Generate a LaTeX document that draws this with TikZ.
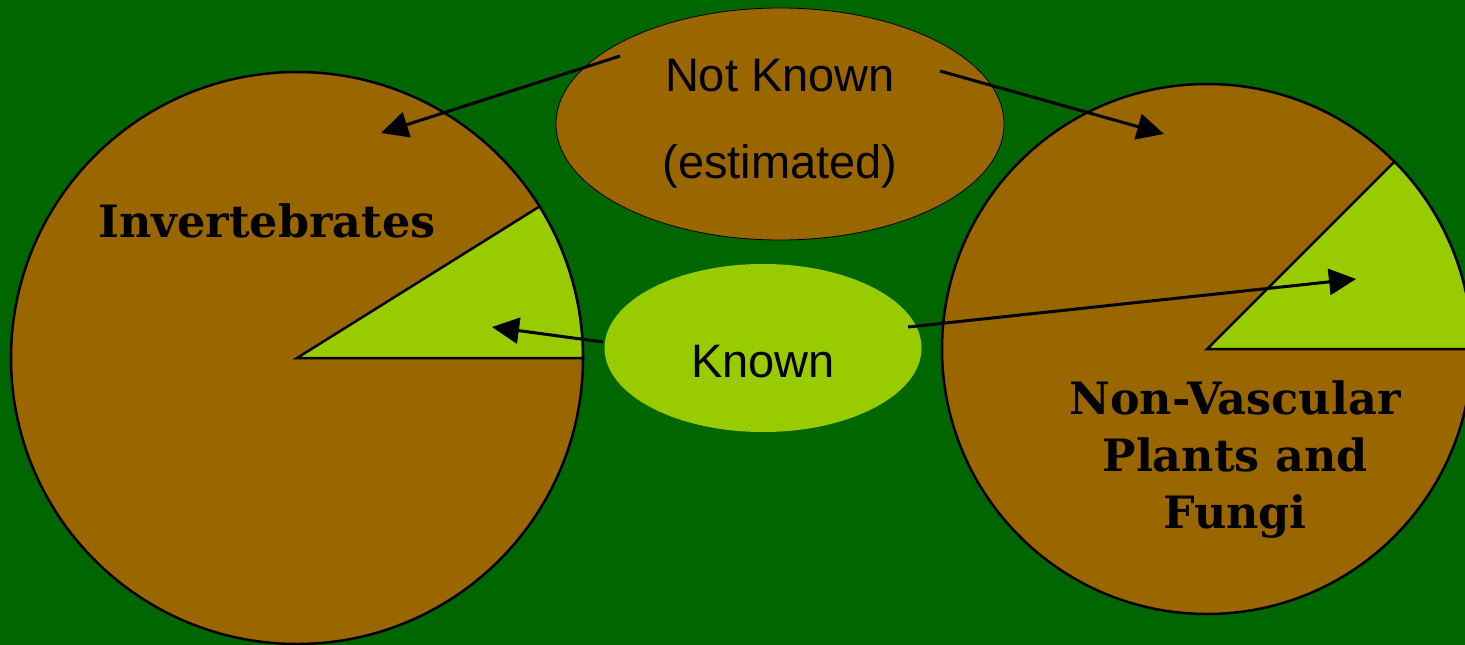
\documentclass[tikz,border=0pt]{standalone}
\usepackage{fontspec}
\setmainfont{Liberation Sans}
\newfontfamily\piefont{DejaVu Serif}
\usetikzlibrary{shapes.geometric,arrows.meta}
\definecolor{bggreen}{RGB}{0,102,0}
\definecolor{piebrown}{RGB}{153,102,0}
\definecolor{pielime}{RGB}{153,204,0}

\begin{document}
\begin{tikzpicture}[x=1bp, y=-1bp,
  pie/.style={draw=black, line width=2.5bp, fill=piebrown},
  slice/.style={draw=black, line width=2.5bp, fill=pielime, line join=miter},
  bubble/.style={ellipse, inner sep=0pt, font=\fontsize{47bp}{87bp}\selectfont, align=center},
  group/.style={font=\piefont\bfseries\fontsize{44.5bp}{57bp}\selectfont, align=center},
  pointer/.style={-{Triangle[length=27bp, width=26bp]}, line width=3bp}
]
\useasboundingbox (0,0) rectangle (1465,645);
\fill[bggreen] (0,0) rectangle (1465,645);

% Pie charts
\begin{scope}
  \clip (0,0) rectangle (1465,645);
  \draw[pie] (297,358) circle[radius=286];
  \draw[slice] (297,358) -- ++(286,0) arc[start angle=0, end angle=-32, radius=286] -- cycle;
  \draw[pie] (1207,349) circle[radius=265];
  \draw[slice] (1207,349) -- ++(265,0) arc[start angle=0, end angle=-45, radius=265] -- cycle;
\end{scope}

% Group labels
\node[group, anchor=base] (invlabel) at (267,237) {Invertebrates};
\node[group] (nvplabel) at (1235,460) {Non-Vascular\\Plants and\\Fungi};

% Legend bubbles
\node[bubble, draw=black, line width=0.8bp, fill=piebrown,
  minimum width=448bp, minimum height=232bp] (unknown) at (780,124) {Not Known\\(estimated)};
\node[bubble, fill=pielime, minimum width=317bp, minimum height=168bp,
  text height=58bp, text depth=0pt] (known) at (763,348) {Known};

% Arrow ends
\coordinate (unknown-l) at (620,56);
\coordinate (unknown-r) at (940,71);
\coordinate (known-l) at (603,342);
\coordinate (known-r) at (908,327);
\coordinate (inv-brown) at (381,133);
\coordinate (nvp-brown) at (1164,134);
\coordinate (inv-lime) at (492,327);
\coordinate (nvp-lime) at (1356,279);

% Arrows
\draw[pointer] (unknown-l) -- (inv-brown);
\draw[pointer] (unknown-r) -- (nvp-brown);
\draw[pointer] (known-l) -- (inv-lime);
\draw[pointer] (known-r) -- (nvp-lime);

\end{tikzpicture}
\end{document}
